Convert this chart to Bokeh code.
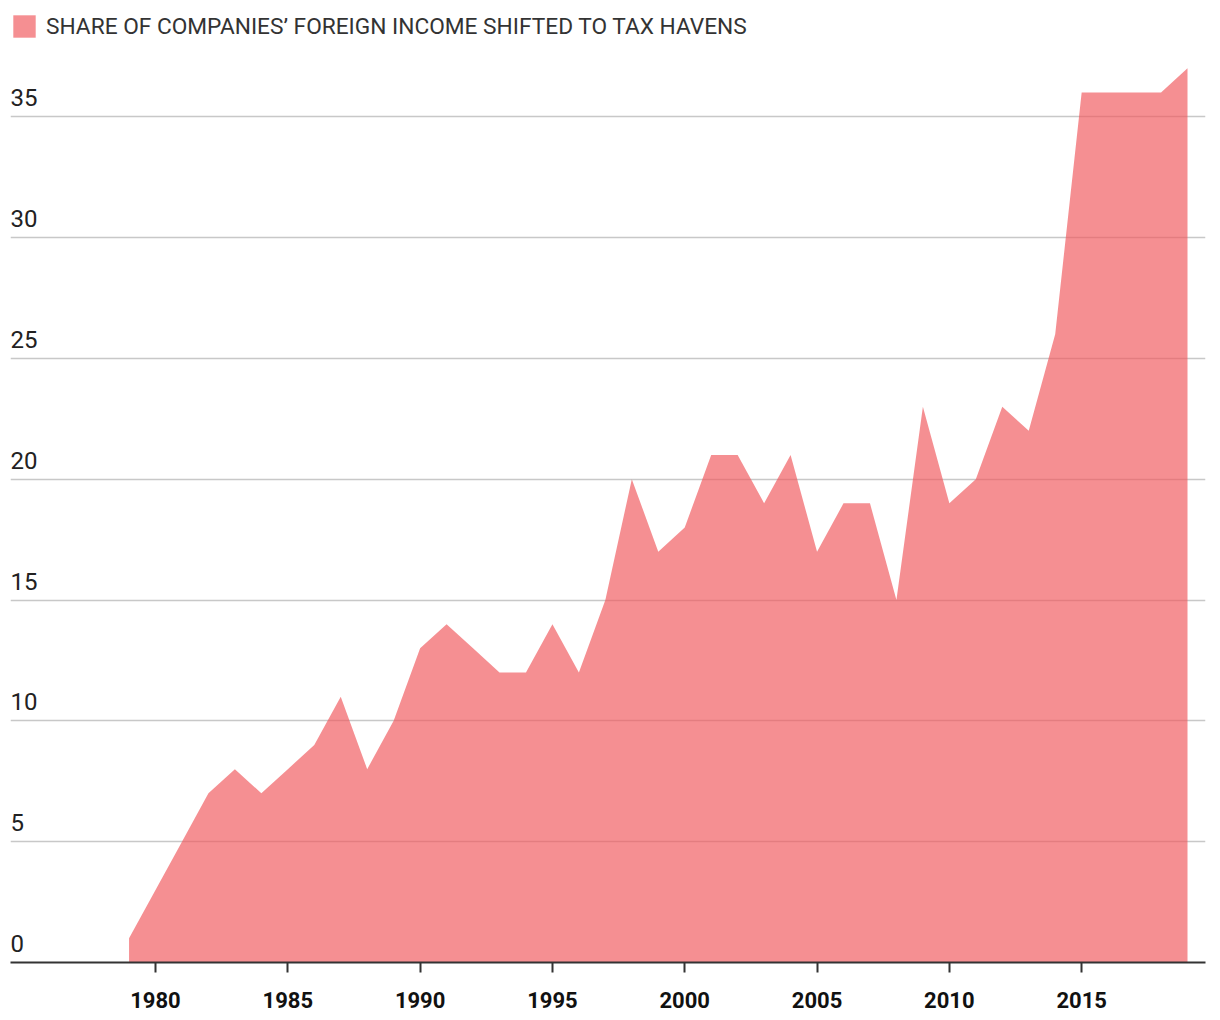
from bokeh.plotting import figure
from bokeh.models import ColumnDataSource, Label, Legend, LegendItem, FixedTicker, Range1d
from bokeh.embed import file_html
from bokeh.resources import INLINE

years = list(range(1979, 2020))
share = [1, 3, 5, 7, 8, 7, 8, 9, 11, 8, 10, 13, 14, 13, 12, 12, 14, 12, 15, 20,
         17, 18, 21, 21, 19, 21, 17, 19, 19, 15, 23, 19, 20, 23, 22, 26, 36, 36,
         36, 36, 37]
x_ticks = [1980, 1985, 1990, 1995, 2000, 2005, 2010, 2015]
y_ticks = [0, 5, 10, 15, 20, 25, 30, 35]
series_name = "SHARE OF COMPANIES\u2019 FOREIGN INCOME SHIFTED TO TAX HAVENS"

src = ColumnDataSource(dict(x=years, y=share))

p = figure(width=1220, height=1020, output_backend="svg", toolbar_location=None,
           x_range=Range1d(1974.52, 2019.68), y_range=Range1d(0, 39.6),
           min_border_left=10, min_border_right=15, min_border_top=5,
           min_border_bottom=58)
p.outline_line_color = None
p.background_fill_color = "white"
p.border_fill_color = "white"

r = p.varea(x="x", y1=0, y2="y", source=src, fill_color="#f05a5f", fill_alpha=0.68)

p.ygrid.ticker = FixedTicker(ticks=y_ticks[1:])
p.ygrid.grid_line_color = "#c8c8c8"
p.ygrid.grid_line_width = 1.5
p.xgrid.visible = False
p.yaxis.visible = False

p.xaxis.ticker = FixedTicker(ticks=x_ticks)
p.xaxis.axis_line_color = "#333333"
p.xaxis.axis_line_width = 2
p.xaxis.major_tick_line_color = "#333333"
p.xaxis.major_tick_line_width = 2
p.xaxis.major_tick_out = 10
p.xaxis.major_tick_in = 0
p.xaxis.minor_tick_line_color = None
p.xaxis.major_label_text_font = "Roboto"
p.xaxis.major_label_text_font_style = "bold"
p.xaxis.major_label_text_font_size = "22px"
p.xaxis.major_label_text_color = "#111111"
p.xaxis.major_label_standoff = 19

for t in y_ticks:
    p.add_layout(Label(x=0, y=t, x_units="screen", y_units="data", text=str(t),
                       y_offset=19, text_font="Roboto", text_font_size="24px",
                       text_color="#222222", text_baseline="alphabetic"))

legend = Legend(items=[LegendItem(label=series_name, renderers=[r])],
                location=(0, 922), orientation="horizontal",
                glyph_width=28, glyph_height=28, label_text_font="Roboto",
                label_text_font_size="22.7px", label_text_color="#333333",
                border_line_color=None, background_fill_alpha=0,
                padding=0, margin=0, label_standoff=8, spacing=0,
                label_height=28)
p.add_layout(legend)

open("out.html", "w").write(file_html(p, INLINE))
